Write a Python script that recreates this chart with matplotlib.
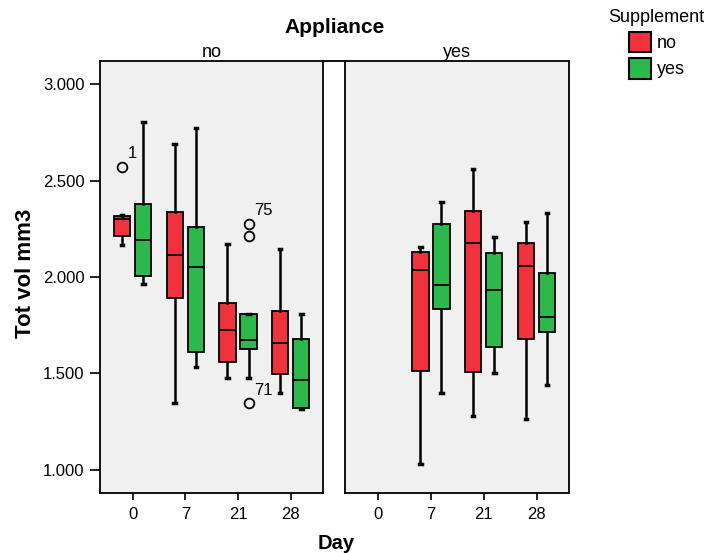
"""
Grouped box plots of total volume by day, split by appliance and supplement.
"""
import matplotlib

matplotlib.use("Agg")
import matplotlib.pyplot as plt
from matplotlib.patches import Patch
from matplotlib.lines import Line2D

plt.rcParams["font.family"] = ["Liberation Sans", "DejaVu Sans"]

days = ["0", "7", "21", "28"]
panels = ["no", "yes"]
supplements = ["no", "yes"]
colors = ["#f0323c", "#2db84b"]

# per day: whisker low, Q1, median, Q3, whisker high (None = no data)
app_no_supp_no = [
    [2.166, 2.214, 2.301, 2.318, 2.320],
    [1.349, 1.893, 2.114, 2.338, 2.691],
    [1.475, 1.561, 1.725, 1.867, 2.169],
    [1.397, 1.497, 1.656, 1.825, 2.144],
]
app_no_supp_yes = [
    [1.962, 2.005, 2.192, 2.377, 2.805],
    [1.532, 1.613, 2.050, 2.261, 2.770],
    [1.478, 1.625, 1.674, 1.807, 1.809],
    [1.315, 1.320, 1.466, 1.680, 1.808],
]
app_yes_supp_no = [
    None,
    [1.031, 1.513, 2.035, 2.130, 2.154],
    [1.280, 1.506, 2.176, 2.342, 2.558],
    [1.263, 1.677, 2.059, 2.175, 2.287],
]
app_yes_supp_yes = [
    None,
    [1.397, 1.833, 1.957, 2.275, 2.389],
    [1.504, 1.639, 1.931, 2.126, 2.207],
    [1.439, 1.717, 1.794, 2.022, 2.330],
]

# outliers: panel index, day index, supplement index, value, case label
outlier_panel = [0, 0, 0, 0]
outlier_day = [0, 2, 2, 2]
outlier_supp = [0, 1, 1, 1]
outlier_value = [2.571, 2.275, 2.212, 1.346]
outlier_label = ["1", "75", "", "71"]

yticks = [1.0, 1.5, 2.0, 2.5, 3.0]

OFFSET = 0.2
WIDTH = 0.31

fig = plt.figure(figsize=(7.16, 5.53), dpi=100)
axes = [
    fig.add_axes([0.1397, 0.109, 0.3119, 0.7812]),
    fig.add_axes([0.4823, 0.109, 0.3128, 0.7812]),
]
groups = [[app_no_supp_no, app_no_supp_yes], [app_yes_supp_no, app_yes_supp_yes]]

for p, (ax, title, grp) in enumerate(zip(axes, panels, groups)):
    ax.set_facecolor("#f0f0f0")
    for s, (series, color) in enumerate(zip(grp, colors)):
        stats, pos = [], []
        for i, row in enumerate(series):
            if row is None:
                continue
            lo, q1, med, q3, hi = row
            stats.append(dict(whislo=lo, q1=q1, med=med, q3=q3, whishi=hi, fliers=[]))
            pos.append(i + (2 * s - 1) * OFFSET)
        ax.bxp(
            stats, positions=pos, widths=WIDTH, capwidths=0.05,
            patch_artist=True, showfliers=False, manage_ticks=False,
            boxprops=dict(facecolor=color, edgecolor="black", linewidth=1.3),
            medianprops=dict(color="black", linewidth=1.3),
            whiskerprops=dict(color="black", linewidth=1.8),
            capprops=dict(color="black", linewidth=2.5),
        )

    for op, od, os_, ov, ol in zip(outlier_panel, outlier_day, outlier_supp,
                                   outlier_value, outlier_label):
        if op != p:
            continue
        x = od + (2 * os_ - 1) * OFFSET
        ax.plot(x, ov, "o", mfc="none", mec="black", ms=7, mew=1.3)
        if ol:
            ax.annotate(ol, (x, ov), xytext=(4, 4), textcoords="offset points",
                        ha="left", va="bottom", fontsize=12)

    ax.set_xlim(-0.62, 3.62)
    ax.set_ylim(0.882, 3.121)
    ax.set_xticks(range(len(days)))
    ax.set_xticklabels(days, fontsize=12)
    ax.tick_params(axis="x", length=5, width=1.2, pad=5)
    for sp in ax.spines.values():
        sp.set_linewidth(1.3)
    ax.set_title(title, fontsize=13, pad=1)
    if p == 0:
        ax.set_yticks(yticks)
        ax.set_yticklabels([f"{v:.3f}" for v in yticks], fontsize=12)
        ax.tick_params(axis="y", length=7, width=1.2, pad=4)
    else:
        ax.set_yticks([])

# strip line joining the two panel tops
b0 = axes[0].get_position()
b1 = axes[1].get_position()
fig.add_artist(Line2D([b0.x1, b1.x0], [b0.y1, b0.y1], transform=fig.transFigure,
                      color="black", lw=1.3))

fig.text(0.468, 0.951, "Appliance", ha="center", va="center", fontsize=15, weight="bold")
fig.text(0.469, 0.018, "Day", ha="center", va="center", fontsize=14.5, weight="bold")
fig.text(0.035, 0.506, "Tot vol mm3", ha="center", va="center", rotation=90,
         fontsize=16, weight="bold")

handles = [Patch(facecolor=c, edgecolor="black", linewidth=1.5) for c in colors]
fig.legend(handles, supplements, title="Supplement", loc="upper center",
           bbox_to_anchor=(0.917, 0.99), frameon=False, fontsize=13, title_fontsize=13,
           handlelength=1.24, handleheight=1.4, labelspacing=0.3, handletextpad=0.3,
           borderpad=0.2, borderaxespad=0)

plt.savefig("out.png", dpi=100)
